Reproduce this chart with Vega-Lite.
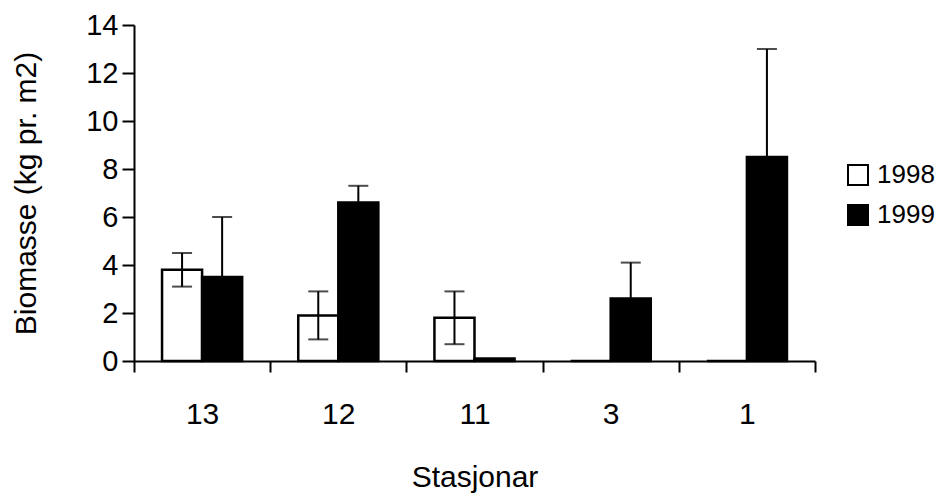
{
  "$schema": "https://vega.github.io/schema/vega-lite/v6.json",
  "autosize": "none",
  "width": 681,
  "height": 336,
  "padding": {"left": 134, "top": 25, "right": 120, "bottom": 136},
  "background": "white",
  "config": {
    "view": {"stroke": null},
    "font": "Liberation Sans",
    "axis": {
      "domainColor": "black",
      "domainWidth": 2,
      "tickColor": "black",
      "tickWidth": 2,
      "labelColor": "black",
      "titleColor": "black",
      "grid": false,
      "labelFont": "Liberation Sans",
      "titleFont": "Liberation Sans",
      "titleFontWeight": "normal"
    },
    "legend": {
      "labelFont": "Liberation Sans",
      "labelColor": "black"
    }
  },
  "datasets": {
    "bars": [
      {"stasjon": "13", "year": "1998", "biomasse": 3.8},
      {"stasjon": "13", "year": "1999", "biomasse": 3.5},
      {"stasjon": "12", "year": "1998", "biomasse": 1.9},
      {"stasjon": "12", "year": "1999", "biomasse": 6.6},
      {"stasjon": "11", "year": "1998", "biomasse": 1.8},
      {"stasjon": "11", "year": "1999", "biomasse": 0.1},
      {"stasjon": "3", "year": "1998", "biomasse": 0},
      {"stasjon": "3", "year": "1999", "biomasse": 2.6},
      {"stasjon": "1", "year": "1998", "biomasse": 0},
      {"stasjon": "1", "year": "1999", "biomasse": 8.5}
    ],
    "errors": [
      {"stasjon": "13", "year": "1998", "lo": 3.1, "hi": 4.5},
      {"stasjon": "13", "year": "1999", "lo": 1.0, "hi": 6.0},
      {"stasjon": "12", "year": "1998", "lo": 0.9, "hi": 2.9},
      {"stasjon": "12", "year": "1999", "lo": 5.9, "hi": 7.3},
      {"stasjon": "11", "year": "1998", "lo": 0.7, "hi": 2.9},
      {"stasjon": "3", "year": "1999", "lo": 1.1, "hi": 4.1},
      {"stasjon": "1", "year": "1999", "lo": 4.0, "hi": 13.0}
    ]
  },
  "encoding": {
    "x": {
      "field": "stasjon",
      "type": "nominal",
      "sort": ["13", "12", "11", "3", "1"],
      "scale": {"paddingInner": 0, "paddingOuter": 0},
      "axis": {
        "title": "Stasjonar",
        "labelAngle": 0,
        "labelFontSize": 30,
        "titleFontSize": 30,
        "tickSize": 11,
        "tickBand": "extent",
        "labelPadding": 27,
        "titlePadding": 33
      }
    },
    "xOffset": {
      "field": "year",
      "type": "nominal",
      "scale": {"paddingInner": 0, "paddingOuter": 0.7}
    }
  },
  "layer": [
    {
      "data": {"name": "bars"},
      "mark": {"type": "bar", "stroke": "black", "strokeWidth": 2.5},
      "encoding": {
        "y": {
          "field": "biomasse",
          "type": "quantitative",
          "scale": {"domain": [0, 14], "nice": false},
          "axis": {
            "title": "Biomasse (kg pr. m2)",
            "values": [0, 2, 4, 6, 8, 10, 12, 14],
            "labelFontSize": 29,
            "titleFontSize": 30,
            "tickSize": 12,
            "labelPadding": 4,
            "titlePadding": 44
          }
        },
        "color": {
          "field": "year",
          "type": "nominal",
          "scale": {"domain": ["1998", "1999"], "range": ["white", "black"]},
          "legend": {
            "title": null,
            "orient": "none",
            "legendX": 711,
            "legendY": 137,
            "padding": 0,
            "symbolType": "square",
            "symbolSize": 400,
            "symbolStrokeColor": "black",
            "symbolStrokeWidth": 2,
            "symbolOpacity": 1,
            "labelFontSize": 26,
            "labelOffset": 6,
            "rowPadding": 12
          }
        }
      }
    },
    {
      "data": {"name": "errors"},
      "mark": {"type": "rule", "color": "black", "strokeWidth": 2},
      "encoding": {
        "y": {"field": "lo", "type": "quantitative"},
        "y2": {"field": "hi"}
      }
    },
    {
      "data": {"name": "errors"},
      "mark": {"type": "tick", "color": "black", "size": 20, "thickness": 2, "orient": "horizontal"},
      "encoding": {
        "y": {"field": "hi", "type": "quantitative"}
      }
    },
    {
      "data": {"name": "errors"},
      "mark": {"type": "tick", "color": "black", "size": 20, "thickness": 2, "orient": "horizontal"},
      "encoding": {
        "y": {"field": "lo", "type": "quantitative"}
      }
    }
  ]
}
